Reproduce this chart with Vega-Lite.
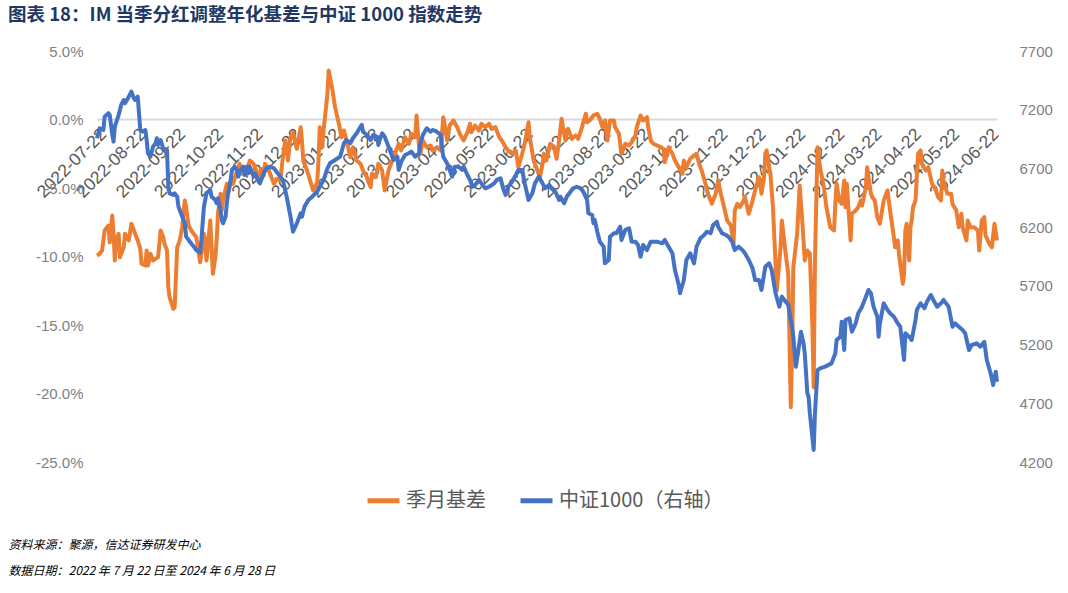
{
"$schema": "https://vega.github.io/schema/vega-lite/v6.json",
"width": 900, "height": 411,
"autosize": {"type": "none"},
"padding": {"left": 97, "top": 51, "right": 71, "bottom": 131},
"background": "white",
"config": {"view": {"stroke": null}, "font": "Liberation Sans"},
"title": {"text": "图表 18：IM 当季分红调整年化基差与中证 1000 指数走势", "anchor": "start", "frame": "group", "dx": -89, "offset": 20, "fontSize": 18.5, "fontWeight": "bold", "color": "#1f3864", "font": "Noto Sans CJK SC", "limit": 800},
"datasets": {
"basis": [
{"t":"2022-07-22","v":-9.93},{"t":"2022-07-24","v":-9.80},{"t":"2022-07-26","v":-9.56},{"t":"2022-07-28","v":-8.10},{"t":"2022-07-31","v":-7.74},{"t":"2022-08-01","v":-8.96},{"t":"2022-08-03","v":-7.01},{"t":"2022-08-04","v":-8.34},{"t":"2022-08-05","v":-10.29},{"t":"2022-08-06","v":-8.83},{"t":"2022-08-08","v":-8.34},{"t":"2022-08-09","v":-10.05},{"t":"2022-08-12","v":-9.32},{"t":"2022-08-13","v":-8.34},{"t":"2022-08-16","v":-8.83},{"t":"2022-08-18","v":-7.61},{"t":"2022-08-21","v":-8.34},{"t":"2022-08-23","v":-8.83},{"t":"2022-08-25","v":-9.44},{"t":"2022-08-26","v":-10.53},{"t":"2022-08-29","v":-10.66},{"t":"2022-08-30","v":-9.56},{"t":"2022-08-31","v":-10.66},{"t":"2022-09-02","v":-9.80},{"t":"2022-09-04","v":-10.29},{"t":"2022-09-06","v":-10.17},{"t":"2022-09-08","v":-10.05},{"t":"2022-09-10","v":-8.10},{"t":"2022-09-12","v":-8.59},{"t":"2022-09-13","v":-9.07},{"t":"2022-09-15","v":-9.56},{"t":"2022-09-16","v":-12.24},{"t":"2022-09-17","v":-12.97},{"t":"2022-09-20","v":-13.82},{"t":"2022-09-21","v":-13.70},{"t":"2022-09-23","v":-9.32},{"t":"2022-09-25","v":-8.83},{"t":"2022-09-27","v":-7.86},{"t":"2022-09-28","v":-6.64},{"t":"2022-09-29","v":-5.91},{"t":"2022-09-30","v":-6.40},{"t":"2022-10-02","v":-7.74},{"t":"2022-10-04","v":-8.10},{"t":"2022-10-08","v":-8.59},{"t":"2022-10-11","v":-10.42},{"t":"2022-10-12","v":-9.80},{"t":"2022-10-14","v":-8.34},{"t":"2022-10-15","v":-8.96},{"t":"2022-10-16","v":-10.29},{"t":"2022-10-17","v":-9.32},{"t":"2022-10-19","v":-7.37},{"t":"2022-10-20","v":-9.32},{"t":"2022-10-21","v":-11.26},{"t":"2022-10-23","v":-10.05},{"t":"2022-10-24","v":-8.83},{"t":"2022-10-25","v":-6.88},{"t":"2022-10-27","v":-5.42},{"t":"2022-10-28","v":-6.64},{"t":"2022-10-29","v":-5.91},{"t":"2022-11-01","v":-4.69},{"t":"2022-11-02","v":-5.42},{"t":"2022-11-05","v":-4.21},{"t":"2022-11-06","v":-4.69},{"t":"2022-11-09","v":-3.72},{"t":"2022-11-11","v":-3.23},{"t":"2022-11-13","v":-3.96},{"t":"2022-11-15","v":-3.48},{"t":"2022-11-17","v":-3.72},{"t":"2022-11-19","v":-2.99},{"t":"2022-11-22","v":-3.23},{"t":"2022-11-25","v":-3.96},{"t":"2022-11-26","v":-4.45},{"t":"2022-11-28","v":-3.60},{"t":"2022-11-30","v":-4.09},{"t":"2022-12-01","v":-3.23},{"t":"2022-12-04","v":-3.72},{"t":"2022-12-06","v":-4.21},{"t":"2022-12-08","v":-4.69},{"t":"2022-12-10","v":-4.33},{"t":"2022-12-13","v":-4.45},{"t":"2022-12-15","v":-2.75},{"t":"2022-12-17","v":-1.53},{"t":"2022-12-18","v":-2.02},{"t":"2022-12-19","v":-2.99},{"t":"2022-12-21","v":-1.29},{"t":"2022-12-23","v":-0.93},{"t":"2022-12-25","v":-1.77},{"t":"2022-12-26","v":-2.14},{"t":"2022-12-29","v":-0.56},{"t":"2022-12-30","v":-1.53},{"t":"2022-12-31","v":-2.99},{"t":"2023-01-03","v":-3.72},{"t":"2023-01-05","v":-4.33},{"t":"2023-01-07","v":-4.94},{"t":"2023-01-08","v":-5.18},{"t":"2023-01-11","v":-4.58},{"t":"2023-01-12","v":-2.99},{"t":"2023-01-13","v":-0.56},{"t":"2023-01-15","v":-2.0},{"t":"2023-01-16","v":-0.80},{"t":"2023-01-19","v":1.88},{"t":"2023-01-20","v":3.58},{"t":"2023-01-23","v":2.12},{"t":"2023-01-25","v":0.90},{"t":"2023-01-28","v":-0.31},{"t":"2023-01-30","v":-1.29},{"t":"2023-02-01","v":-0.80},{"t":"2023-02-03","v":-1.53},{"t":"2023-02-06","v":-2.75},{"t":"2023-02-08","v":-2.02},{"t":"2023-02-11","v":-2.99},{"t":"2023-02-14","v":-3.23},{"t":"2023-02-16","v":-3.72},{"t":"2023-02-19","v":-4.21},{"t":"2023-02-22","v":-4.94},{"t":"2023-02-23","v":-3.96},{"t":"2023-02-26","v":-4.21},{"t":"2023-02-28","v":-3.23},{"t":"2023-03-03","v":-3.72},{"t":"2023-03-05","v":-5.18},{"t":"2023-03-08","v":-3.72},{"t":"2023-03-11","v":-2.99},{"t":"2023-03-13","v":-2.50},{"t":"2023-03-16","v":-1.77},{"t":"2023-03-18","v":-2.26},{"t":"2023-03-21","v":-1.29},{"t":"2023-03-24","v":-1.77},{"t":"2023-03-26","v":-1.04},{"t":"2023-03-29","v":-1.29},{"t":"2023-03-30","v":0.29},{"t":"2023-04-01","v":-2.02},{"t":"2023-04-02","v":-2.50},{"t":"2023-04-04","v":-1.53},{"t":"2023-04-07","v":-2.02},{"t":"2023-04-10","v":-1.90},{"t":"2023-04-12","v":-2.26},{"t":"2023-04-15","v":-2.02},{"t":"2023-04-18","v":-2.26},{"t":"2023-04-20","v":0.17},{"t":"2023-04-21","v":-0.31},{"t":"2023-04-23","v":-1.53},{"t":"2023-04-25","v":-0.44},{"t":"2023-04-28","v":-0.07},{"t":"2023-05-01","v":-0.56},{"t":"2023-05-03","v":-1.04},{"t":"2023-05-06","v":-1.53},{"t":"2023-05-09","v":-0.93},{"t":"2023-05-11","v":-0.31},{"t":"2023-05-12","v":-0.93},{"t":"2023-05-15","v":-0.44},{"t":"2023-05-18","v":-0.80},{"t":"2023-05-20","v":-0.31},{"t":"2023-05-23","v":-0.56},{"t":"2023-05-26","v":-0.31},{"t":"2023-05-28","v":-0.68},{"t":"2023-05-31","v":-0.56},{"t":"2023-06-03","v":-1.29},{"t":"2023-06-05","v":-1.53},{"t":"2023-06-08","v":-2.02},{"t":"2023-06-10","v":-2.26},{"t":"2023-06-13","v":-2.50},{"t":"2023-06-16","v":-2.26},{"t":"2023-06-18","v":-3.48},{"t":"2023-06-21","v":-2.50},{"t":"2023-06-23","v":-1.77},{"t":"2023-06-26","v":-0.20},{"t":"2023-06-27","v":-1.29},{"t":"2023-06-30","v":-2.99},{"t":"2023-07-03","v":-3.72},{"t":"2023-07-05","v":-4.21},{"t":"2023-07-07","v":-3.23},{"t":"2023-07-08","v":-2.50},{"t":"2023-07-10","v":-2.99},{"t":"2023-07-13","v":-1.77},{"t":"2023-07-16","v":-2.0},{"t":"2023-07-18","v":-2.87},{"t":"2023-07-20","v":-1.53},{"t":"2023-07-22","v":0.05},{"t":"2023-07-23","v":-0.56},{"t":"2023-07-25","v":-1.53},{"t":"2023-07-26","v":-0.80},{"t":"2023-07-27","v":-0.68},{"t":"2023-07-30","v":-1.41},{"t":"2023-08-02","v":-1.17},{"t":"2023-08-04","v":-1.41},{"t":"2023-08-07","v":-0.56},{"t":"2023-08-08","v":-0.20},{"t":"2023-08-10","v":0.42},{"t":"2023-08-11","v":-0.20},{"t":"2023-08-13","v":-0.07},{"t":"2023-08-16","v":0.29},{"t":"2023-08-19","v":0.42},{"t":"2023-08-21","v":0.05},{"t":"2023-08-23","v":-0.56},{"t":"2023-08-24","v":-0.31},{"t":"2023-08-25","v":-0.07},{"t":"2023-08-27","v":-1.53},{"t":"2023-08-29","v":-0.07},{"t":"2023-09-01","v":-0.07},{"t":"2023-09-02","v":-0.56},{"t":"2023-09-05","v":-1.04},{"t":"2023-09-07","v":-2.50},{"t":"2023-09-10","v":-1.77},{"t":"2023-09-13","v":-1.90},{"t":"2023-09-15","v":-1.66},{"t":"2023-09-18","v":-1.17},{"t":"2023-09-19","v":-0.56},{"t":"2023-09-22","v":0.29},{"t":"2023-09-24","v":-0.07},{"t":"2023-09-27","v":0.17},{"t":"2023-09-28","v":-0.56},{"t":"2023-09-30","v":-1.53},{"t":"2023-10-02","v":-1.77},{"t":"2023-10-05","v":-1.90},{"t":"2023-10-08","v":-2.02},{"t":"2023-10-10","v":-2.14},{"t":"2023-10-11","v":-3.12},{"t":"2023-10-14","v":-2.02},{"t":"2023-10-17","v":-2.50},{"t":"2023-10-19","v":-2.99},{"t":"2023-10-22","v":-3.48},{"t":"2023-10-25","v":-3.96},{"t":"2023-10-26","v":-2.99},{"t":"2023-10-28","v":-3.48},{"t":"2023-10-31","v":-2.87},{"t":"2023-11-03","v":-2.63},{"t":"2023-11-05","v":-2.50},{"t":"2023-11-07","v":-3.23},{"t":"2023-11-09","v":-3.72},{"t":"2023-11-12","v":-4.69},{"t":"2023-11-14","v":-5.42},{"t":"2023-11-17","v":-6.15},{"t":"2023-11-20","v":-5.42},{"t":"2023-11-22","v":-4.45},{"t":"2023-11-24","v":-5.42},{"t":"2023-11-26","v":-6.15},{"t":"2023-11-29","v":-7.37},{"t":"2023-12-02","v":-7.74},{"t":"2023-12-03","v":-8.47},{"t":"2023-12-04","v":-9.20},{"t":"2023-12-05","v":-6.64},{"t":"2023-12-07","v":-6.15},{"t":"2023-12-09","v":-6.40},{"t":"2023-12-12","v":-5.91},{"t":"2023-12-13","v":-5.67},{"t":"2023-12-16","v":-6.88},{"t":"2023-12-19","v":-5.91},{"t":"2023-12-21","v":-5.18},{"t":"2023-12-24","v":-4.21},{"t":"2023-12-26","v":-5.42},{"t":"2023-12-28","v":-4.21},{"t":"2023-12-29","v":-2.50},{"t":"2023-12-30","v":-2.26},{"t":"2024-01-01","v":-3.48},{"t":"2024-01-02","v":-3.96},{"t":"2024-01-04","v":-6.40},{"t":"2024-01-07","v":-12.48},{"t":"2024-01-10","v":-9.32},{"t":"2024-01-11","v":-7.37},{"t":"2024-01-14","v":-9.80},{"t":"2024-01-16","v":-11.26},{"t":"2024-01-18","v":-21.0},{"t":"2024-01-19","v":-17.10},{"t":"2024-01-20","v":-10.78},{"t":"2024-01-23","v":-8.34},{"t":"2024-01-25","v":-4.82},{"t":"2024-01-27","v":-7.37},{"t":"2024-01-28","v":-8.83},{"t":"2024-01-29","v":-10.29},{"t":"2024-01-31","v":-9.56},{"t":"2024-02-02","v":-9.80},{"t":"2024-02-04","v":-15.16},{"t":"2024-02-05","v":-19.54},{"t":"2024-02-06","v":-10.29},{"t":"2024-02-08","v":-2.02},{"t":"2024-02-10","v":-3.48},{"t":"2024-02-13","v":-4.94},{"t":"2024-02-15","v":-6.40},{"t":"2024-02-18","v":-7.86},{"t":"2024-02-21","v":-8.10},{"t":"2024-02-22","v":-6.15},{"t":"2024-02-23","v":-4.69},{"t":"2024-02-25","v":-5.91},{"t":"2024-02-27","v":-6.15},{"t":"2024-02-29","v":-4.45},{"t":"2024-03-01","v":-6.40},{"t":"2024-03-02","v":-4.69},{"t":"2024-03-05","v":-8.83},{"t":"2024-03-06","v":-6.88},{"t":"2024-03-09","v":-6.64},{"t":"2024-03-11","v":-6.40},{"t":"2024-03-13","v":-5.91},{"t":"2024-03-14","v":-6.28},{"t":"2024-03-17","v":-4.94},{"t":"2024-03-18","v":-3.48},{"t":"2024-03-19","v":-4.21},{"t":"2024-03-21","v":-5.42},{"t":"2024-03-22","v":-5.67},{"t":"2024-03-24","v":-5.91},{"t":"2024-03-26","v":-7.13},{"t":"2024-03-28","v":-7.61},{"t":"2024-03-31","v":-5.91},{"t":"2024-04-03","v":-5.18},{"t":"2024-04-05","v":-6.64},{"t":"2024-04-08","v":-8.59},{"t":"2024-04-09","v":-9.32},{"t":"2024-04-11","v":-8.83},{"t":"2024-04-12","v":-9.80},{"t":"2024-04-15","v":-11.99},{"t":"2024-04-16","v":-11.26},{"t":"2024-04-17","v":-8.10},{"t":"2024-04-18","v":-7.61},{"t":"2024-04-20","v":-10.29},{"t":"2024-04-21","v":-7.86},{"t":"2024-04-22","v":-7.37},{"t":"2024-04-23","v":-6.40},{"t":"2024-04-25","v":-5.91},{"t":"2024-04-26","v":-4.21},{"t":"2024-04-27","v":-2.50},{"t":"2024-04-29","v":-2.26},{"t":"2024-04-30","v":-3.23},{"t":"2024-05-03","v":-3.72},{"t":"2024-05-05","v":-3.48},{"t":"2024-05-08","v":-4.69},{"t":"2024-05-11","v":-5.18},{"t":"2024-05-13","v":-5.67},{"t":"2024-05-15","v":-5.91},{"t":"2024-05-16","v":-3.72},{"t":"2024-05-17","v":-4.45},{"t":"2024-05-20","v":-5.42},{"t":"2024-05-23","v":-5.42},{"t":"2024-05-24","v":-6.15},{"t":"2024-05-27","v":-6.64},{"t":"2024-05-29","v":-7.86},{"t":"2024-05-31","v":-6.88},{"t":"2024-06-01","v":-7.86},{"t":"2024-06-04","v":-8.83},{"t":"2024-06-05","v":-7.37},{"t":"2024-06-07","v":-7.86},{"t":"2024-06-10","v":-7.86},{"t":"2024-06-13","v":-8.10},{"t":"2024-06-14","v":-9.56},{"t":"2024-06-16","v":-7.37},{"t":"2024-06-18","v":-7.13},{"t":"2024-06-19","v":-8.47},{"t":"2024-06-22","v":-9.07},{"t":"2024-06-24","v":-9.32},{"t":"2024-06-26","v":-7.61},{"t":"2024-06-28","v":-8.83}
],
"csi": [
{"t":"2022-07-22","v":6957},{"t":"2022-07-24","v":7042},{"t":"2022-07-27","v":7027},{"t":"2022-07-28","v":7141},{"t":"2022-07-31","v":7170},{"t":"2022-08-01","v":7155},{"t":"2022-08-03","v":6985},{"t":"2022-08-04","v":6928},{"t":"2022-08-05","v":7055},{"t":"2022-08-08","v":7155},{"t":"2022-08-10","v":7240},{"t":"2022-08-12","v":7283},{"t":"2022-08-13","v":7255},{"t":"2022-08-16","v":7311},{"t":"2022-08-18","v":7354},{"t":"2022-08-20","v":7297},{"t":"2022-08-21","v":7283},{"t":"2022-08-23","v":7311},{"t":"2022-08-25","v":7027},{"t":"2022-08-27","v":7013},{"t":"2022-08-29","v":7027},{"t":"2022-08-30","v":6942},{"t":"2022-08-31","v":6829},{"t":"2022-09-02","v":6800},{"t":"2022-09-04","v":6885},{"t":"2022-09-06","v":6914},{"t":"2022-09-07","v":6957},{"t":"2022-09-08","v":6900},{"t":"2022-09-10","v":6942},{"t":"2022-09-12","v":6871},{"t":"2022-09-15","v":6857},{"t":"2022-09-16","v":6544},{"t":"2022-09-17","v":6488},{"t":"2022-09-20","v":6474},{"t":"2022-09-21","v":6488},{"t":"2022-09-23","v":6459},{"t":"2022-09-24","v":6374},{"t":"2022-09-27","v":6289},{"t":"2022-09-29","v":6233},{"t":"2022-09-30","v":6119},{"t":"2022-10-03","v":6076},{"t":"2022-10-06","v":6034},{"t":"2022-10-08","v":6005},{"t":"2022-10-11","v":5983},{"t":"2022-10-12","v":6091},{"t":"2022-10-14","v":6374},{"t":"2022-10-16","v":6488},{"t":"2022-10-19","v":6516},{"t":"2022-10-20","v":6459},{"t":"2022-10-23","v":6431},{"t":"2022-10-24","v":6403},{"t":"2022-10-25","v":6446},{"t":"2022-10-27","v":6346},{"t":"2022-10-28","v":6261},{"t":"2022-10-29","v":6233},{"t":"2022-10-31","v":6289},{"t":"2022-11-01","v":6403},{"t":"2022-11-02","v":6488},{"t":"2022-11-04","v":6602},{"t":"2022-11-05","v":6687},{"t":"2022-11-07","v":6715},{"t":"2022-11-09","v":6687},{"t":"2022-11-10","v":6630},{"t":"2022-11-11","v":6672},{"t":"2022-11-14","v":6715},{"t":"2022-11-15","v":6644},{"t":"2022-11-17","v":6715},{"t":"2022-11-18","v":6659},{"t":"2022-11-19","v":6715},{"t":"2022-11-22","v":6630},{"t":"2022-11-23","v":6659},{"t":"2022-11-26","v":6587},{"t":"2022-11-27","v":6573},{"t":"2022-11-30","v":6659},{"t":"2022-12-02","v":6701},{"t":"2022-12-05","v":6715},{"t":"2022-12-08","v":6701},{"t":"2022-12-10","v":6672},{"t":"2022-12-13","v":6630},{"t":"2022-12-15","v":6602},{"t":"2022-12-18","v":6459},{"t":"2022-12-21","v":6289},{"t":"2022-12-23","v":6161},{"t":"2022-12-26","v":6233},{"t":"2022-12-29","v":6318},{"t":"2022-12-30","v":6289},{"t":"2023-01-01","v":6374},{"t":"2023-01-04","v":6431},{"t":"2023-01-07","v":6459},{"t":"2023-01-11","v":6502},{"t":"2023-01-13","v":6544},{"t":"2023-01-16","v":6602},{"t":"2023-01-19","v":6700},{"t":"2023-01-21","v":6744},{"t":"2023-01-25","v":6772},{"t":"2023-01-29","v":6800},{"t":"2023-02-01","v":6914},{"t":"2023-02-03","v":6942},{"t":"2023-02-06","v":6914},{"t":"2023-02-08","v":6957},{"t":"2023-02-11","v":6999},{"t":"2023-02-14","v":7055},{"t":"2023-02-15","v":7070},{"t":"2023-02-16","v":7013},{"t":"2023-02-19","v":6985},{"t":"2023-02-22","v":6942},{"t":"2023-02-24","v":6985},{"t":"2023-02-27","v":6970},{"t":"2023-02-28","v":6900},{"t":"2023-03-01","v":6942},{"t":"2023-03-03","v":6999},{"t":"2023-03-05","v":6970},{"t":"2023-03-07","v":6914},{"t":"2023-03-09","v":6857},{"t":"2023-03-12","v":6772},{"t":"2023-03-15","v":6800},{"t":"2023-03-16","v":6687},{"t":"2023-03-18","v":6757},{"t":"2023-03-21","v":6814},{"t":"2023-03-24","v":6829},{"t":"2023-03-26","v":6843},{"t":"2023-03-29","v":6800},{"t":"2023-04-01","v":6829},{"t":"2023-04-02","v":6914},{"t":"2023-04-04","v":6985},{"t":"2023-04-07","v":7042},{"t":"2023-04-10","v":7013},{"t":"2023-04-12","v":7027},{"t":"2023-04-15","v":7013},{"t":"2023-04-18","v":6985},{"t":"2023-04-19","v":6885},{"t":"2023-04-20","v":6800},{"t":"2023-04-23","v":6744},{"t":"2023-04-25","v":6687},{"t":"2023-04-27","v":6630},{"t":"2023-04-29","v":6715},{"t":"2023-05-02","v":6715},{"t":"2023-05-05","v":6687},{"t":"2023-05-06","v":6715},{"t":"2023-05-09","v":6644},{"t":"2023-05-11","v":6602},{"t":"2023-05-13","v":6544},{"t":"2023-05-15","v":6559},{"t":"2023-05-18","v":6602},{"t":"2023-05-20","v":6573},{"t":"2023-05-23","v":6531},{"t":"2023-05-26","v":6544},{"t":"2023-05-30","v":6573},{"t":"2023-06-01","v":6602},{"t":"2023-06-04","v":6616},{"t":"2023-06-06","v":6531},{"t":"2023-06-08","v":6474},{"t":"2023-06-10","v":6544},{"t":"2023-06-13","v":6587},{"t":"2023-06-16","v":6644},{"t":"2023-06-18","v":6687},{"t":"2023-06-21","v":6687},{"t":"2023-06-23","v":6573},{"t":"2023-06-26","v":6431},{"t":"2023-06-29","v":6488},{"t":"2023-07-01","v":6573},{"t":"2023-07-04","v":6630},{"t":"2023-07-07","v":6573},{"t":"2023-07-09","v":6531},{"t":"2023-07-12","v":6559},{"t":"2023-07-14","v":6531},{"t":"2023-07-17","v":6502},{"t":"2023-07-20","v":6431},{"t":"2023-07-21","v":6459},{"t":"2023-07-24","v":6403},{"t":"2023-07-26","v":6459},{"t":"2023-07-29","v":6502},{"t":"2023-07-31","v":6531},{"t":"2023-08-03","v":6544},{"t":"2023-08-06","v":6531},{"t":"2023-08-08","v":6502},{"t":"2023-08-11","v":6431},{"t":"2023-08-12","v":6318},{"t":"2023-08-15","v":6303},{"t":"2023-08-16","v":6233},{"t":"2023-08-17","v":6261},{"t":"2023-08-19","v":6161},{"t":"2023-08-21","v":6076},{"t":"2023-08-24","v":6034},{"t":"2023-08-25","v":5892},{"t":"2023-08-28","v":5920},{"t":"2023-08-29","v":6119},{"t":"2023-09-01","v":6148},{"t":"2023-09-03","v":6148},{"t":"2023-09-06","v":6204},{"t":"2023-09-07","v":6091},{"t":"2023-09-10","v":6176},{"t":"2023-09-13","v":6190},{"t":"2023-09-15","v":6076},{"t":"2023-09-18","v":6076},{"t":"2023-09-20","v":6048},{"t":"2023-09-22","v":5948},{"t":"2023-09-24","v":6048},{"t":"2023-09-27","v":6005},{"t":"2023-09-30","v":6076},{"t":"2023-10-05","v":6076},{"t":"2023-10-09","v":6062},{"t":"2023-10-11","v":6091},{"t":"2023-10-14","v":6034},{"t":"2023-10-17","v":5977},{"t":"2023-10-19","v":5835},{"t":"2023-10-22","v":5707},{"t":"2023-10-23","v":5637},{"t":"2023-10-26","v":5750},{"t":"2023-10-28","v":5920},{"t":"2023-10-31","v":5977},{"t":"2023-11-03","v":5892},{"t":"2023-11-05","v":6034},{"t":"2023-11-08","v":6105},{"t":"2023-11-11","v":6133},{"t":"2023-11-13","v":6161},{"t":"2023-11-16","v":6148},{"t":"2023-11-18","v":6218},{"t":"2023-11-21","v":6246},{"t":"2023-11-22","v":6204},{"t":"2023-11-25","v":6148},{"t":"2023-11-28","v":6133},{"t":"2023-11-30","v":6119},{"t":"2023-12-03","v":6076},{"t":"2023-12-05","v":6005},{"t":"2023-12-08","v":6034},{"t":"2023-12-11","v":6005},{"t":"2023-12-13","v":5977},{"t":"2023-12-16","v":5920},{"t":"2023-12-19","v":5850},{"t":"2023-12-21","v":5750},{"t":"2023-12-24","v":5750},{"t":"2023-12-26","v":5665},{"t":"2023-12-29","v":5863},{"t":"2024-01-01","v":5892},{"t":"2024-01-03","v":5835},{"t":"2024-01-06","v":5639},{"t":"2024-01-09","v":5523},{"t":"2024-01-11","v":5608},{"t":"2024-01-14","v":5565},{"t":"2024-01-16","v":5540},{"t":"2024-01-18","v":5409},{"t":"2024-01-19","v":5352},{"t":"2024-01-20","v":5267},{"t":"2024-01-22","v":5012},{"t":"2024-01-24","v":5154},{"t":"2024-01-26","v":5310},{"t":"2024-01-28","v":5211},{"t":"2024-01-29","v":5126},{"t":"2024-01-31","v":4785},{"t":"2024-02-01","v":4756},{"t":"2024-02-02","v":4615},{"t":"2024-02-05","v":4302},{"t":"2024-02-06","v":4615},{"t":"2024-02-08","v":4983},{"t":"2024-02-10","v":4998},{"t":"2024-02-14","v":5012},{"t":"2024-02-19","v":5040},{"t":"2024-02-22","v":5126},{"t":"2024-02-23","v":5239},{"t":"2024-02-26","v":5267},{"t":"2024-02-27","v":5395},{"t":"2024-02-29","v":5154},{"t":"2024-03-01","v":5409},{"t":"2024-03-04","v":5424},{"t":"2024-03-06","v":5310},{"t":"2024-03-09","v":5381},{"t":"2024-03-11","v":5466},{"t":"2024-03-14","v":5523},{"t":"2024-03-17","v":5608},{"t":"2024-03-19","v":5665},{"t":"2024-03-21","v":5637},{"t":"2024-03-23","v":5523},{"t":"2024-03-26","v":5437},{"t":"2024-03-27","v":5267},{"t":"2024-03-28","v":5381},{"t":"2024-03-31","v":5551},{"t":"2024-04-03","v":5494},{"t":"2024-04-05","v":5466},{"t":"2024-04-08","v":5437},{"t":"2024-04-11","v":5381},{"t":"2024-04-13","v":5352},{"t":"2024-04-16","v":5069},{"t":"2024-04-17","v":5296},{"t":"2024-04-20","v":5267},{"t":"2024-04-22","v":5239},{"t":"2024-04-25","v":5409},{"t":"2024-04-26","v":5494},{"t":"2024-04-29","v":5551},{"t":"2024-05-02","v":5509},{"t":"2024-05-04","v":5565},{"t":"2024-05-07","v":5622},{"t":"2024-05-09","v":5580},{"t":"2024-05-12","v":5523},{"t":"2024-05-15","v":5551},{"t":"2024-05-17","v":5580},{"t":"2024-05-18","v":5565},{"t":"2024-05-21","v":5523},{"t":"2024-05-24","v":5352},{"t":"2024-05-26","v":5381},{"t":"2024-05-29","v":5352},{"t":"2024-06-01","v":5324},{"t":"2024-06-03","v":5296},{"t":"2024-06-06","v":5154},{"t":"2024-06-08","v":5196},{"t":"2024-06-12","v":5211},{"t":"2024-06-15","v":5182},{"t":"2024-06-18","v":5224},{"t":"2024-06-20","v":5069},{"t":"2024-06-23","v":4955},{"t":"2024-06-25","v":4856},{"t":"2024-06-27","v":4969},{"t":"2024-06-28","v":4884}
]
},
"encoding": {
"x": {"field": "t", "type": "temporal",
"scale": {"type": "utc", "domain": [{"year": 2022, "month": 7, "date": 22, "utc": true}, {"year": 2024, "month": 6, "date": 28, "utc": true}]},
"axis": {"orient": "bottom", "offset": -343,
"values": [{"year":2022,"month":7,"date":22,"utc":true},{"year":2022,"month":8,"date":22,"utc":true},{"year":2022,"month":9,"date":22,"utc":true},{"year":2022,"month":10,"date":22,"utc":true},{"year":2022,"month":11,"date":22,"utc":true},{"year":2022,"month":12,"date":22,"utc":true},{"year":2023,"month":1,"date":22,"utc":true},{"year":2023,"month":2,"date":22,"utc":true},{"year":2023,"month":3,"date":22,"utc":true},{"year":2023,"month":4,"date":22,"utc":true},{"year":2023,"month":5,"date":22,"utc":true},{"year":2023,"month":6,"date":22,"utc":true},{"year":2023,"month":7,"date":22,"utc":true},{"year":2023,"month":8,"date":22,"utc":true},{"year":2023,"month":9,"date":22,"utc":true},{"year":2023,"month":10,"date":22,"utc":true},{"year":2023,"month":11,"date":22,"utc":true},{"year":2023,"month":12,"date":22,"utc":true},{"year":2024,"month":1,"date":22,"utc":true},{"year":2024,"month":2,"date":22,"utc":true},{"year":2024,"month":3,"date":22,"utc":true},{"year":2024,"month":4,"date":22,"utc":true},{"year":2024,"month":5,"date":22,"utc":true},{"year":2024,"month":6,"date":22,"utc":true}],
"labelExpr": "utcFormat(datum.value, '%Y-%m-%d')",
"labelAngle": -45, "labelAlign": "right", "labelBaseline": "top",
"labelFontSize": 17.5, "labelColor": "#595959", "labelFont": "Liberation Sans",
"labelPadding": 6, "labelOverlap": false, "labelBound": false, "labelFlush": false, "labelSeparation": 0,
"domain": false, "ticks": false, "grid": false,
"title": ["资料来源：聚源，信达证券研发中心", "数据日期：2022 年 7 月 22 日至 2024 年 6 月 28 日"],
"titleX": -89, "titleY": 420, "titleAlign": "left", "titleAnchor": "start", "titleBaseline": "top", "titleAngle": 0, "titleLimit": 800,
"titleFont": "Noto Sans CJK SC", "titleFontSize": 12, "titleFontStyle": "italic", "titleFontWeight": "normal", "titleColor": "#000000", "titleLineHeight": 26}
}
},
"layer": [
{
"data": {"name": "basis"},
"mark": {"type": "line", "strokeWidth": 4, "strokeJoin": "round"},
"encoding": {
"y": {"field": "v", "type": "quantitative",
"scale": {"domain": [-25, 5], "nice": false, "zero": false},
"axis": {"values": [-25, -20, -15, -10, -5, 0, 5],
"labelExpr": "replace(format(datum.value, '.1f'), '−', '-') + '%'",
"grid": true, "gridColor": "#d9d9d9", "gridWidth": 2,
"gridOpacity": {"condition": {"test": "datum.value === 0", "value": 1}, "value": 0},
"domain": false, "ticks": false, "labelFontSize": 15, "labelColor": "#7f7f7f", "labelFont": "Liberation Sans", "labelPadding": 14, "title": null}
},
"color": {"datum": "季月基差", "type": "nominal",
"scale": {"domain": ["季月基差", "中证1000（右轴）"], "range": ["#ED7D31", "#4472C4"]},
"legend": {"orient": "none", "legendX": 268, "legendY": 431, "direction": "horizontal", "title": null, "symbolType": "stroke", "symbolStrokeWidth": 5, "symbolSize": 1024, "labelFontSize": 20, "labelColor": "#595959", "labelFont": "Noto Sans CJK SC", "labelLimit": 400, "columnPadding": 24, "labelOffset": 4}
}
}
},
{
"data": {"name": "csi"},
"mark": {"type": "line", "strokeWidth": 4, "strokeJoin": "round"},
"encoding": {
"y": {"field": "v", "type": "quantitative",
"scale": {"domain": [4200, 7700], "nice": false, "zero": false},
"axis": {"orient": "right", "values": [4200, 4700, 5200, 5700, 6200, 6700, 7200, 7700], "format": "d",
"grid": false, "domain": false, "ticks": false, "labelFontSize": 15, "labelColor": "#7f7f7f", "labelFont": "Liberation Sans", "labelPadding": 22, "title": null}
},
"color": {"datum": "中证1000（右轴）", "type": "nominal",
"legend": {"orient": "none", "legendX": 268, "legendY": 431, "direction": "horizontal", "title": null, "symbolType": "stroke", "symbolStrokeWidth": 5, "symbolSize": 1024, "labelFontSize": 20, "labelColor": "#595959", "labelFont": "Noto Sans CJK SC", "labelLimit": 400, "columnPadding": 24, "labelOffset": 4}
}
}
}
],
"resolve": {"scale": {"y": "independent"}}
}
